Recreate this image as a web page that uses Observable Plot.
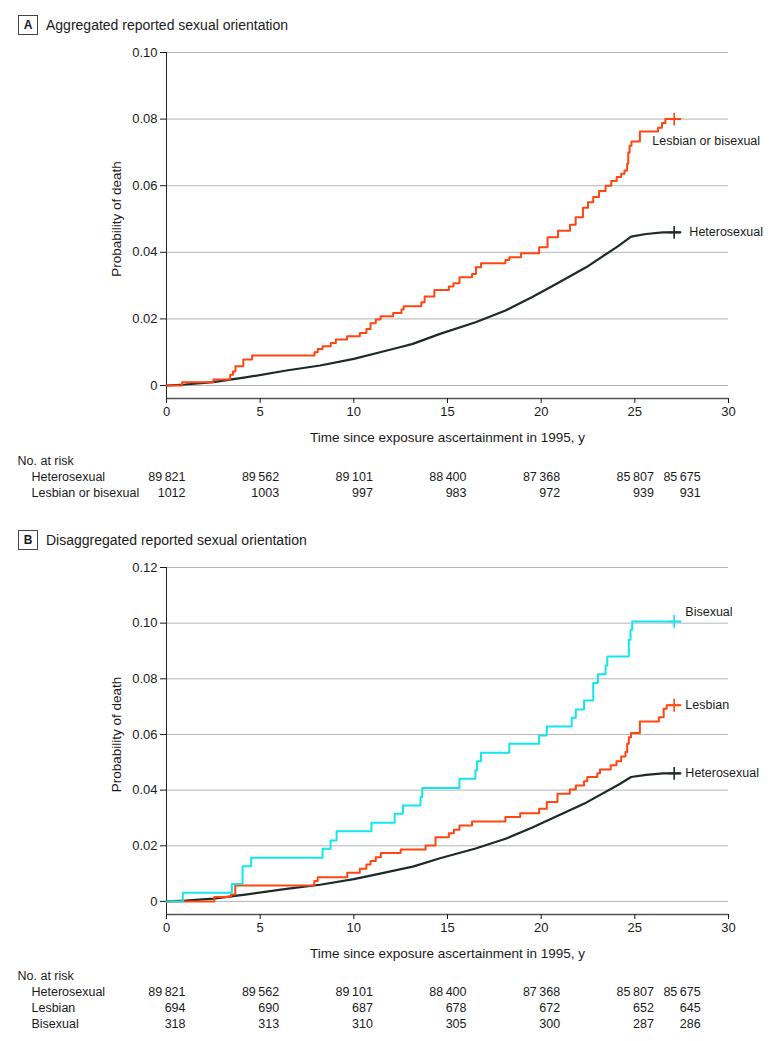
<!DOCTYPE html>
<html><head><meta charset="utf-8">
<script src="https://cdn.jsdelivr.net/npm/d3@7"></script>
<script src="https://cdn.jsdelivr.net/npm/@observablehq/plot@0.6"></script>
<style>
body{margin:0;background:#fff;font-family:"Liberation Sans",Arial,sans-serif;color:#1a1a1a;}
#page{position:relative;width:780px;height:1041px;overflow:hidden;}
.hdr{position:absolute;left:0;height:24px;display:flex;align-items:center;font-size:14px;}
.box{margin-left:18px;width:18px;height:18px;border:1px solid #444;display:flex;align-items:center;justify-content:center;font-weight:bold;font-size:12px;}
.ttl{margin-left:8px;}
.panel{position:absolute;left:0;}
</style></head><body><div id="page">
<div class="hdr" style="top:13px"><div class="box">A</div><div class="ttl">Aggregated reported sexual orientation</div></div>
<div class="panel" id="pA" style="top:37px"></div>
<div class="hdr" style="top:528px"><div class="box">B</div><div class="ttl">Disaggregated reported sexual orientation</div></div>
<div class="panel" id="pB" style="top:552px"></div>
</div>
<script>
// ---- data ----
const timeTicks = [0, 5, 10, 15, 20, 25, 30];
const yTicksA = [0, 0.02, 0.04, 0.06, 0.08, 0.10];
const yTicksB = [0, 0.02, 0.04, 0.06, 0.08, 0.10, 0.12];
const riskTimes = [0, 5, 10, 15, 20, 25, 27.5];
const riskHetero = [89821, 89562, 89101, 88400, 87368, 85807, 85675];
const riskLGB = [1012, 1003, 997, 983, 972, 939, 931];
const riskLesbian = [694, 690, 687, 678, 672, 652, 645];
const riskBisexual = [318, 313, 310, 305, 300, 287, 286];

// Heterosexual cumulative probability (many small steps -> smooth)
const heteroT = [0, 1, 2.5, 4.3, 6.4, 8.2, 10, 11.4, 12.45, 13.15, 14.6, 16.5, 18.1, 19.5, 20.8, 22.4, 24.15, 24.8, 25.6, 26.5, 27.43];
const heteroP = [0, 0.0003, 0.001, 0.0025, 0.0045, 0.006, 0.008, 0.010, 0.0115, 0.0125, 0.0155, 0.019, 0.0225, 0.0265, 0.0305, 0.0355, 0.042, 0.0447, 0.0455, 0.046, 0.046];

// Lesbian or bisexual (panel A), step times and values after each step
const lgbT = [0, 0.83, 2.5, 3.4, 3.55, 3.68, 4.1, 4.57, 7.9, 8.07, 8.33, 8.77, 9.04, 9.64, 10.32, 10.67, 10.89, 11.17, 11.43, 12.1, 12.54, 12.66, 13.6, 13.78, 14.3, 15.07, 15.32, 15.64, 16.31, 16.52, 16.79, 18.09, 18.3, 18.92, 19.89, 20.34, 20.9, 21.54, 21.84, 22.23, 22.5, 22.78, 23.09, 23.44, 23.74, 24.03, 24.27, 24.45, 24.59, 24.65, 24.72, 24.82, 25.27, 26.24, 26.45, 26.63, 27.43];
const lgbP = [0, 0.001, 0.0018, 0.0032, 0.0042, 0.0058, 0.0078, 0.009, 0.010, 0.011, 0.0118, 0.0128, 0.0138, 0.0148, 0.0158, 0.017, 0.0187, 0.0198, 0.0208, 0.0218, 0.0228, 0.0238, 0.025, 0.0267, 0.0287, 0.0297, 0.0307, 0.0325, 0.0335, 0.0355, 0.0367, 0.0377, 0.0385, 0.0397, 0.0415, 0.0445, 0.0465, 0.0483, 0.0505, 0.0534, 0.055, 0.0566, 0.0584, 0.060, 0.0614, 0.0626, 0.0636, 0.0646, 0.0666, 0.070, 0.072, 0.0733, 0.0763, 0.0774, 0.0788, 0.080, 0.080];

// Lesbian (panel B)
const lesT = [0, 2.55, 3.44, 3.67, 7.89, 8.07, 9.65, 10.32, 10.67, 10.89, 11.17, 11.44, 12.5, 13.83, 14.36, 15.07, 15.34, 15.64, 16.31, 18.09, 18.88, 19.89, 20.3, 20.87, 21.53, 21.85, 22.29, 22.46, 23.0, 23.14, 23.71, 24.02, 24.27, 24.5, 24.59, 24.68, 24.8, 25.27, 26.28, 26.54, 26.7, 27.43];
const lesP = [0, 0.0016, 0.0025, 0.0057, 0.0073, 0.0087, 0.0103, 0.0117, 0.0133, 0.0145, 0.0159, 0.0174, 0.0187, 0.0201, 0.0231, 0.0245, 0.0258, 0.0273, 0.0287, 0.0303, 0.0317, 0.0333, 0.0357, 0.0387, 0.0402, 0.0417, 0.0432, 0.0447, 0.0461, 0.0474, 0.0489, 0.0504, 0.0521, 0.0537, 0.0567, 0.059, 0.0605, 0.0647, 0.0662, 0.0692, 0.0705, 0.0705];

// Bisexual (panel B)
const bisT = [0, 0.87, 3.49, 4.06, 4.52, 8.33, 8.76, 9.08, 10.94, 12.18, 12.62, 13.56, 13.65, 15.64, 16.49, 16.58, 16.79, 18.3, 19.89, 20.3, 21.63, 21.85, 22.29, 22.78, 23.03, 23.44, 23.53, 24.68, 24.77, 24.86, 27.43];
const bisP = [0, 0.0031, 0.0063, 0.0126, 0.0157, 0.0189, 0.0219, 0.0252, 0.0283, 0.0315, 0.0345, 0.0375, 0.0408, 0.0441, 0.0471, 0.0504, 0.0534, 0.0567, 0.0596, 0.0629, 0.066, 0.069, 0.0722, 0.0785, 0.0816, 0.0848, 0.088, 0.094, 0.0976, 0.1006, 0.1006];

const censorT = 27.1;

// ---- styling ----
const C_HET = "#1c2a2a", C_ORA = "#ff4612", C_CYA = "#14e6ee";
const FONT = "'Liberation Sans', Arial, sans-serif";
const INK = "#1a1a1a";

const pts = (T, P) => T.map((t, i) => ({t, p: P[i]}));
const fmtN = n => n >= 10000 ? String(n).replace(/(\d{2})(\d{3})$/, "$1\u2009$2") : String(n);
const yFmt = d => d === 0 ? "0" : d.toFixed(2);
const lastP = P => P[P.length - 1];
const stepAt = (T, P, t) => { let v = 0; T.forEach((x, i) => { if (x <= t) v = P[i]; }); return v; };

function riskRows(rows, dy0) {
  const marks = [
    Plot.text(["No. at risk"], {text: d => d, frameAnchor: "bottom-left", dx: -149, dy: dy0, textAnchor: "start", lineAnchor: "middle", fontSize: 12.5, fill: INK})
  ];
  rows.forEach((r, k) => {
    const dy = dy0 + 16.3 * (k + 1);
    marks.push(Plot.text([r.name], {text: d => d, frameAnchor: "bottom-left", dx: -135, dy, textAnchor: "start", lineAnchor: "middle", fontSize: 12.5, fill: INK}));
    marks.push(Plot.text(riskTimes.map((t, i) => ({t, n: r.values[i]})), {x: "t", text: d => fmtN(d.n), frameAnchor: "bottom", dx: 19, dy, textAnchor: "end", lineAnchor: "middle", fontSize: 12.5, fill: INK}));
  });
  return marks;
}

function frameMarks(yTicks, yMin) {
  const yTop = yTicks[yTicks.length - 1];
  return [
    Plot.ruleY(yTicks, {stroke: "#b5b5b5", strokeWidth: 1}),
    Plot.ruleX([0], {stroke: "#222", strokeWidth: 1}),
    Plot.ruleY([yMin], {stroke: "#555", strokeWidth: 1.6}),
    Plot.axisY({ticks: yTicks, tickFormat: yFmt, tickSize: 6, tickPadding: 3, label: null, fill: INK}),
    Plot.axisX({ticks: timeTicks, tickSize: 5, tickPadding: 3, label: null, fill: INK}),
    Plot.text([yTop / 2], {y: d => d, text: () => "Probability of death", frameAnchor: "left", textAnchor: "middle", lineAnchor: "middle", dx: -50, rotate: -90, fontSize: 13.5, fill: INK}),
    Plot.text(["Time since exposure ascertainment in 1995, y"], {text: d => d, frameAnchor: "bottom", lineAnchor: "middle", dy: 39, fontSize: 13.5, fill: INK})
  ];
}

const common = {width: 780, marginLeft: 166, marginRight: 52, marginTop: 15, style: {fontFamily: FONT, fontSize: "13px", background: "white", overflow: "visible"}};

// ---- Panel A ----
const yMinA = -0.0039;
const plotA = Plot.plot({
  ...common,
  height: 491, marginBottom: 130,
  x: {domain: [0, 30]},
  y: {domain: [yMinA, 0.10]},
  marks: [
    ...frameMarks(yTicksA, yMinA),
    Plot.line(pts(heteroT, heteroP), {x: "t", y: "p", stroke: C_HET, strokeWidth: 2.2}),
    Plot.line(pts(lgbT, lgbP), {x: "t", y: "p", stroke: C_ORA, strokeWidth: 2, curve: "step-after"}),
    Plot.dot([{t: censorT, p: lastP(heteroP)}], {x: "t", y: "p", symbol: "plus", r: 4.2, stroke: C_HET, strokeWidth: 1.6}),
    Plot.dot([{t: censorT, p: stepAt(lgbT, lgbP, censorT)}], {x: "t", y: "p", symbol: "plus", r: 4.2, stroke: C_ORA, strokeWidth: 1.6}),
    Plot.text([{t: lgbT[lgbT.length - 1], p: lastP(lgbP)}], {x: "t", y: "p", text: () => "Lesbian or bisexual", dx: -28, dy: 22, textAnchor: "start", fontSize: 12.5, fill: INK}),
    Plot.text([{t: heteroT[heteroT.length - 1], p: lastP(heteroP)}], {x: "t", y: "p", text: () => "Heterosexual", dx: 9, dy: 0, textAnchor: "start", fontSize: 12.5, fill: INK}),
    ...riskRows([{name: "Heterosexual", values: riskHetero}, {name: "Lesbian or bisexual", values: riskLGB}], 62)
  ]
});
document.getElementById("pA").append(plotA);

// ---- Panel B ----
const yMinB = -0.0047;
const plotB = Plot.plot({
  ...common,
  height: 489, marginBottom: 127,
  x: {domain: [0, 30]},
  y: {domain: [yMinB, 0.12]},
  marks: [
    ...frameMarks(yTicksB, yMinB),
    Plot.line(pts(heteroT, heteroP), {x: "t", y: "p", stroke: C_HET, strokeWidth: 2.2}),
    Plot.line(pts(lesT, lesP), {x: "t", y: "p", stroke: C_ORA, strokeWidth: 2, curve: "step-after"}),
    Plot.line(pts(bisT, bisP), {x: "t", y: "p", stroke: C_CYA, strokeWidth: 2, curve: "step-after"}),
    Plot.dot([{t: censorT, p: lastP(heteroP)}], {x: "t", y: "p", symbol: "plus", r: 4.2, stroke: C_HET, strokeWidth: 1.6}),
    Plot.dot([{t: censorT, p: stepAt(lesT, lesP, censorT)}], {x: "t", y: "p", symbol: "plus", r: 4.2, stroke: C_ORA, strokeWidth: 1.6}),
    Plot.dot([{t: censorT, p: stepAt(bisT, bisP, censorT)}], {x: "t", y: "p", symbol: "plus", r: 4.2, stroke: C_CYA, strokeWidth: 1.6}),
    Plot.text([{t: bisT[bisT.length - 1], p: lastP(bisP)}], {x: "t", y: "p", text: () => "Bisexual", dx: 5, dy: -9, textAnchor: "start", fontSize: 12.5, fill: INK}),
    Plot.text([{t: lesT[lesT.length - 1], p: lastP(lesP)}], {x: "t", y: "p", text: () => "Lesbian", dx: 5, dy: 0, textAnchor: "start", fontSize: 12.5, fill: INK}),
    Plot.text([{t: heteroT[heteroT.length - 1], p: lastP(heteroP)}], {x: "t", y: "p", text: () => "Heterosexual", dx: 5, dy: 0, textAnchor: "start", fontSize: 12.5, fill: INK}),
    ...riskRows([{name: "Heterosexual", values: riskHetero}, {name: "Lesbian", values: riskLesbian}, {name: "Bisexual", values: riskBisexual}], 61)
  ]
});
document.getElementById("pB").append(plotB);
</script>
</body></html>
